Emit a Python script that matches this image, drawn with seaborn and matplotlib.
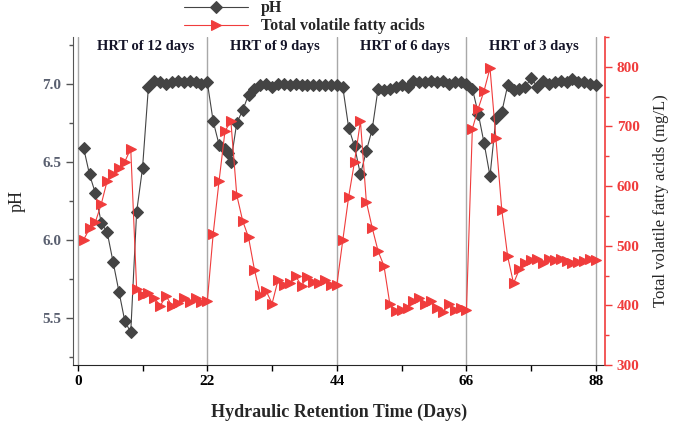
import matplotlib
matplotlib.use("Agg")
import matplotlib.pyplot as plt
from matplotlib.ticker import MultipleLocator, FixedLocator
import seaborn as sns
import pandas as pd

sns.set_style("ticks")
plt.rcParams['font.family'] = ['Liberation Serif', 'DejaVu Serif']

# pH readings (day, value)
ph_days = list(range(1, 26)) + [25.5] + list(range(26, 89))
ph_vals = [6.59, 6.42, 6.30, 6.11, 6.05, 5.86, 5.67, 5.48, 5.41, 6.18, 6.46, 6.98,
           7.02, 7.01, 7.00, 7.01, 7.02, 7.01, 7.02, 7.01, 7.00, 7.01,
           6.76, 6.61, 6.58, 6.56, 6.50, 6.75, 6.83, 6.93, 6.97, 6.99, 7.00, 6.98,
           7.00, 7.00, 6.99, 7.00, 6.99, 6.99, 6.99, 6.99, 6.99, 6.99, 6.99,
           6.98, 6.72, 6.60, 6.42, 6.57, 6.71, 6.97, 6.96, 6.97, 6.98, 6.99, 6.98,
           7.02, 7.01, 7.01, 7.02, 7.01, 7.02, 7.00, 7.01, 7.01, 7.00,
           6.97, 6.81, 6.62, 6.41, 6.78, 6.82, 6.99, 6.96, 6.97, 6.98, 7.04, 6.98,
           7.02, 7.00, 7.01, 7.02, 7.01, 7.03, 7.01, 7.01, 7.00, 6.99]
ph_days = ph_days[:len(ph_vals)]

# total volatile fatty acids (mg/L)
vfa_days = list(range(1, 89))
vfa_vals = [510, 529, 540, 570, 609, 620, 631, 641, 663, 428, 418, 420, 413, 399,
            416, 399, 404, 413, 406, 413, 406, 407,
            520, 609, 692, 709, 585, 542, 514, 460, 418, 424, 403, 442, 435, 437,
            449, 433, 448, 440, 437, 442, 435, 435,
            509, 582, 641, 709, 574, 530, 491, 466, 402, 391, 392, 396, 407, 413,
            403, 407, 396, 389, 402, 393, 395, 392,
            696, 730, 760, 798, 680, 560, 482, 437, 461, 471, 476, 478, 471, 477,
            476, 478, 474, 471, 472, 474, 477, 476]

phase_bounds = [0, 22, 44, 66, 88]
phase_labels = ["HRT of 12 days", "HRT of 9 days", "HRT of 6 days", "HRT of 3 days"]

ph_df = pd.DataFrame({"day": ph_days, "pH": ph_vals})
vfa_df = pd.DataFrame({"day": vfa_days, "vfa": vfa_vals})

red = "#f03c3c"
fig = plt.figure(figsize=(6.85, 4.23), dpi=100)
ax = fig.add_axes([0.1066, 0.137, 0.7764, 0.7755])
ax2 = ax.twinx()

for b in phase_bounds:
    ax.axvline(b, color="#a8a8a8", lw=1.0, zorder=0)

sns.lineplot(data=ph_df, x="day", y="pH", ax=ax, color="#444444", lw=0.8,
             marker="D", markersize=6, markeredgecolor="#444444",
             estimator=None, sort=False, label="pH", legend=False)
sns.lineplot(data=vfa_df, x="day", y="vfa", ax=ax2, color=red, lw=0.8,
             marker=">", markersize=6.5, markeredgecolor=red,
             estimator=None, sort=False, label="Total volatile fatty acids", legend=False)

ax.set_xlim(-0.8, 89.5)
ax.set_ylim(5.2, 7.3)
ax2.set_ylim(300, 850)

ax.xaxis.set_major_locator(FixedLocator(phase_bounds))
ax.xaxis.set_minor_locator(FixedLocator([11, 33, 55, 77]))
ax.yaxis.set_major_locator(FixedLocator([5.5, 6.0, 6.5, 7.0]))
ax.yaxis.set_minor_locator(MultipleLocator(0.25))
ax2.yaxis.set_major_locator(MultipleLocator(100))
ax2.yaxis.set_minor_locator(MultipleLocator(50))

ax.tick_params(axis="x", which="both", direction="out", length=4, width=1,
               labelsize=11, colors="black")
ax.tick_params(axis="y", which="major", direction="out", length=5, width=1,
               labelsize=11, colors="#555555", labelcolor="#5a6070")
ax.tick_params(axis="y", which="minor", direction="out", length=3, width=1, colors="#555555")
ax2.tick_params(axis="y", which="major", direction="out", length=5, width=1,
                labelsize=11, colors=red)
ax2.tick_params(axis="y", which="minor", direction="out", length=3, width=1, colors=red)
for lab in ax.get_xticklabels() + ax.get_yticklabels() + ax2.get_yticklabels():
    lab.set_fontweight("bold")
ax.yaxis.set_ticklabels(["5.5", "6.0", "6.5", "7.0"], fontweight="bold")

ax.spines["top"].set_visible(False)
ax2.spines["top"].set_visible(False)
ax.spines["right"].set_visible(False)
ax2.spines["left"].set_visible(False)
ax2.spines["bottom"].set_visible(False)
ax.spines["left"].set_color("#555555")
ax2.spines["right"].set_color(red)
ax2.spines["right"].set_linewidth(1.2)

ax.set_xlabel("Hydraulic Retention Time (Days)", fontsize=13, fontweight="bold", labelpad=11)
ax.set_ylabel("pH", fontsize=13, labelpad=12)
ax2.set_ylabel("Total volatile fatty acids (mg/L)", fontsize=12, labelpad=10)

for i, txt in enumerate(phase_labels):
    mid = (phase_bounds[i] + phase_bounds[i + 1]) / 2 + 0.5
    ax.text(mid, 7.28, txt, ha="center", va="top", fontsize=10.5,
            fontweight="bold", color="#141428")

h1, l1 = ax.get_legend_handles_labels()
h2, l2 = ax2.get_legend_handles_labels()
fig.legend(h1 + h2, l1 + l2, loc="upper left", bbox_to_anchor=(0.26, 1.014),
           frameon=False, handlelength=4, borderaxespad=0, labelspacing=0.12,
           prop={"weight": "bold", "size": 11.5})

fig.savefig("out.png", dpi=100)
